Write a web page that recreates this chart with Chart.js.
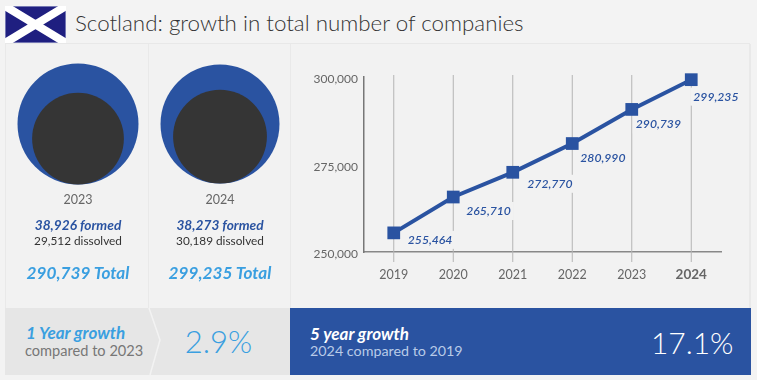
<!DOCTYPE html>
<html>
<head>
<meta charset="utf-8">
<script src="https://cdn.jsdelivr.net/npm/chart.js@4"></script>
<style>
  html, body { margin: 0; padding: 0; background: #f3f3f3; }
  body { width: 757px; height: 380px; position: relative; overflow: hidden; font-family: Lato, sans-serif; }
  .abs { position: absolute; white-space: nowrap; line-height: 1; }
  .mid { transform: translate(-50%, -50%); }
  .left { transform: translateY(-50%); }
  .right { transform: translate(-100%, -50%); }
  .box { position: absolute; }
  canvas { position: absolute; }
</style>
</head>
<body>
<svg class="box" style="left:5px;top:6px" width="61" height="37" viewBox="0 0 61 37">
  <rect width="61" height="37" fill="#1f1f80" stroke="#c9cfe6"/>
  <path d="M0 0 L61 37 M61 0 L0 37" stroke="#fff" stroke-width="8"/>
</svg>
<div class="abs left" style="left:75px;top:23px;font-size:22.35px;font-weight:300;color:#333">Scotland: growth in total number of companies</div>

<div class="box" style="left:5px;top:43px;width:745px;height:265px;background:#f2f2f2;border-top:1px solid #e8e8e8;box-sizing:border-box"></div>
<div class="box" style="left:5px;top:44px;width:1px;height:264px;background:#e9e9e9"></div>
<div class="box" style="left:148px;top:44px;width:1px;height:264px;background:#e9e9e9"></div>
<div class="box" style="left:290px;top:44px;width:1px;height:264px;background:#e9e9e9"></div>
<div class="box" style="left:749px;top:44px;width:2px;height:264px;background:#e9e9e9"></div>

<div class="box" style="left:5px;top:308px;width:285px;height:67px;background:#e6e6e6"></div>
<svg class="box" style="left:145px;top:308px" width="20" height="67">
  <polyline points="4,0 15,32 5,67" fill="none" stroke="#f3f3f3" stroke-width="1.5"/>
</svg>
<div class="box" style="left:290px;top:308px;width:461px;height:67px;background:#2a53a1"></div>

<canvas id="circulos" width="284" height="264" style="left:7px;top:44px"></canvas>
<canvas id="total" width="466" height="264" style="left:291px;top:44px"></canvas>

<div class="abs left" style="left:26px;top:332px;font-size:17px;font-weight:700;font-style:italic;color:#3a9fe0">1 Year growth</div>
<div class="abs left" style="left:25px;top:351px;font-size:14.6px;color:#777">compared to 2023</div>
<div class="abs mid" style="left:218.5px;top:341px;font-size:31px;font-weight:300;color:#3a9fe0">2.9%</div>
<div class="abs left" style="left:310px;top:333px;font-size:17px;font-weight:700;font-style:italic;color:#fff">5 year growth</div>
<div class="abs left" style="left:310px;top:351px;font-size:14.3px;color:#b9cbe8">2024 compared to 2019</div>
<div class="abs right" style="left:733.5px;top:342px;font-size:30px;font-weight:300;color:#fff">17.1%</div>

<script>
const years = ['2019', '2020', '2021', '2022', '2023', '2024'];
const totals = [255464, 265710, 272770, 280990, 290739, 299235];
const yTicks = [250000, 275000, 300000];

const circleYears = ['2023', '2024'];
const formed = [38926, 38273];
const dissolved = [29512, 30189];
const circleTotals = [290739, 299235];

const azul = '#2a53a1';
const fmt = n => n.toLocaleString('en-US');

// offset of each value label from its point
const labelOffsets = [[14, 7], [13, 14], [14.5, 11.5], [8, 14.5], [4, 15], [2, 17]];

// text under the circles
const centros = [78, 220];
circleYears.forEach((y, i) => {
  const filas = [
    [y, 200, 'font-size:12.5px;color:#666'],
    [fmt(formed[i]) + ' formed', 225, 'font-size:13.7px;font-weight:700;font-style:italic;color:' + azul],
    [fmt(dissolved[i]) + ' dissolved', 241, 'font-size:11.8px;color:#333'],
    [fmt(circleTotals[i]) + ' Total', 273, 'font-size:17.2px;font-weight:700;font-style:italic;color:#3a9fe0']
  ];
  filas.forEach(f => {
    const d = document.createElement('div');
    d.className = 'abs mid';
    d.style.cssText = 'left:' + centros[i] + 'px;top:' + f[1] + 'px;' + f[2];
    d.textContent = f[0];
    document.body.appendChild(d);
  });
});

// circles: radius is proportional to the count, dissolved sits at the bottom of formed
const pxPorEmpresa = 60.5 / 38926;
const alto = 264;
const centroY = 80;

new Chart(document.getElementById('circulos'), {
  type: 'bubble',
  data: {
    labels: circleYears,
    datasets: [{
      label: 'dissolved',
      data: dissolved.map((v, i) => ({ x: circleYears[i], y: v - formed[i], r: v * pxPorEmpresa })),
      backgroundColor: '#353535',
      borderWidth: 0
    }, {
      label: 'formed',
      data: formed.map((v, i) => ({ x: circleYears[i], y: 0, r: v * pxPorEmpresa })),
      backgroundColor: azul,
      borderWidth: 0
    }]
  },
  options: {
    responsive: false,
    animation: false,
    events: [],
    layout: { autoPadding: false },
    plugins: { legend: { display: false }, tooltip: { enabled: false } },
    scales: {
      x: { type: 'category', offset: true, display: false },
      y: { display: false, min: -(alto - centroY) / pxPorEmpresa, max: centroY / pxPorEmpresa }
    }
  }
});

// grid lines run a little past the plot and the value labels knock them out
const lineasYEtiquetas = {
  id: 'lineasYEtiquetas',
  beforeDatasetsDraw(chart) {
    const { ctx, scales } = chart;
    ctx.save();
    ctx.strokeStyle = '#b4b4b4';
    ctx.lineWidth = 1;
    years.forEach((y, i) => {
      const x = scales.x.getPixelForValue(i);
      ctx.beginPath();
      ctx.moveTo(x, 31);
      ctx.lineTo(x, 218);
      ctx.stroke();
    });
    ctx.font = 'italic 600 12.2px Lato';
    ctx.fillStyle = '#f2f2f2';
    totals.forEach((v, i) => {
      const p = chart.getDatasetMeta(0).data[i];
      const w = ctx.measureText(fmt(v)).width;
      ctx.fillRect(p.x + labelOffsets[i][0] - 3, p.y + labelOffsets[i][1] - 9, w + 6, 18);
    });
    ctx.restore();
  },
  afterDatasetsDraw(chart) {
    const { ctx } = chart;
    ctx.save();
    ctx.font = 'italic 600 12.2px Lato';
    ctx.fillStyle = azul;
    ctx.textBaseline = 'middle';
    totals.forEach((v, i) => {
      const p = chart.getDatasetMeta(0).data[i];
      ctx.fillText(fmt(v), p.x + labelOffsets[i][0], p.y + labelOffsets[i][1]);
    });
    ctx.restore();
  }
};

new Chart(document.getElementById('total'), {
  type: 'line',
  data: {
    labels: years,
    datasets: [{
      label: 'Total',
      data: totals,
      borderColor: azul,
      backgroundColor: azul,
      borderWidth: 4,
      tension: 0,
      clip: false,
      pointStyle: 'rect',
      pointRadius: 9,
      pointBorderWidth: 0
    }]
  },
  options: {
    responsive: false,
    animation: false,
    events: [],
    layout: { autoPadding: false, padding: { top: 33, right: 36, bottom: 16, left: 0 } },
    plugins: { legend: { display: false }, tooltip: { enabled: false } },
    scales: {
      x: {
        type: 'category',
        offset: true,
        grid: { display: false, drawTicks: false },
        border: { color: '#888', width: 1.5 },
        afterFit(scale) { scale.height = 40; },
        ticks: {
          padding: 15,
          maxRotation: 0,
          color: '#666',
          font: c => c.index === years.length - 1
            ? { family: 'Lato', size: 13.5, weight: '700' }
            : { family: 'Lato', size: 12.5 }
        }
      },
      y: {
        min: 250000,
        max: 300000,
        grid: { display: false, drawTicks: false },
        border: { color: '#777', width: 1.5 },
        afterFit(scale) { scale.width = 73; },
        afterBuildTicks(scale) { scale.ticks = yTicks.map(v => ({ value: v })); },
        ticks: {
          padding: 6,
          labelOffset: 2.5,
          color: '#666',
          font: { family: 'Lato', size: 12 },
          callback: v => fmt(v)
        }
      }
    }
  },
  plugins: [lineasYEtiquetas]
});
</script>
</body>
</html>
